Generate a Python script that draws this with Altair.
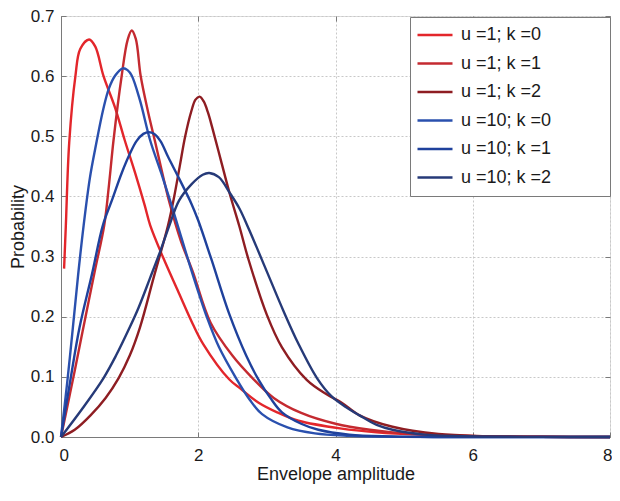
import altair as alt
import pandas as pd

# ---- data ----
SERIES = ["u =1; k =0", "u =1; k =1", "u =1; k =2",
          "u =10; k =0", "u =10; k =1", "u =10; k =2"]
COLORS = ["#e3262b", "#c42a30", "#8e1d22", "#2a50ae", "#1f419c", "#263a78"]

U1K0_X = [0.045, 0.07, 0.12, 0.21, 0.28, 0.41, 0.5, 0.62, 0.79, 0.93, 1.08, 1.22, 1.30,
          1.49, 1.70, 1.92, 2.07, 2.45, 2.62, 2.88, 3.15, 3.46, 4.09, 4.6, 5.2, 6.0, 7.0, 8.0]
U1K0_Y = [0.28, 0.35, 0.49, 0.60, 0.645, 0.661, 0.649, 0.60, 0.547, 0.493, 0.439, 0.385, 0.352,
          0.298, 0.244, 0.188, 0.155, 0.096, 0.08, 0.057, 0.041, 0.027, 0.014, 0.008, 0.004,
          0.0015, 0.0003, 0.0]

U1K1_X = [0, 0.1, 0.2, 0.34, 0.5, 0.63, 0.7, 0.765, 0.885, 0.97, 1.03, 1.09, 1.16, 1.26,
          1.367, 1.58, 1.75, 1.92, 2.18, 2.5, 2.79, 3.1, 3.5, 4.0, 4.5, 5.0, 5.6, 6.3, 7.0, 8.0]
U1K1_Y = [0, 0.055, 0.11, 0.19, 0.28, 0.352, 0.42, 0.493, 0.601, 0.66, 0.676, 0.662, 0.601,
          0.545, 0.493, 0.39, 0.325, 0.275, 0.19, 0.135, 0.098, 0.065, 0.04, 0.022, 0.012,
          0.006, 0.003, 0.001, 0.0003, 0]

U1K2_X = [0, 0.2, 0.43, 0.65, 0.84, 1.0, 1.15, 1.35, 1.56, 1.65, 1.73, 1.81, 1.9, 1.96, 2.02,
          2.08, 2.14, 2.21, 2.33, 2.46, 2.6, 2.73, 3.0, 3.22, 3.58, 3.87, 4.09, 4.35, 4.83,
          5.5, 6.2, 7.0, 8.0]
U1K2_Y = [0, 0.012, 0.036, 0.065, 0.098, 0.135, 0.182, 0.265, 0.352, 0.40, 0.45, 0.50, 0.542,
          0.561, 0.566, 0.558, 0.54, 0.512, 0.46, 0.404, 0.35, 0.296, 0.203, 0.149, 0.095,
          0.071, 0.057, 0.036, 0.017, 0.005, 0.0015, 0.0004, 0]

U10K0_X = [0, 0.09, 0.173, 0.25, 0.33, 0.42, 0.5, 0.62, 0.7, 0.79, 0.9, 0.97, 1.03, 1.15,
           1.3, 1.46, 1.59, 1.70, 1.92, 2.13, 2.3, 2.55, 2.75, 2.93, 3.3, 3.7, 4.2, 4.8, 5.5, 8.0]
U10K0_Y = [0, 0.09, 0.182, 0.27, 0.352, 0.43, 0.48, 0.547, 0.58, 0.601, 0.613, 0.61, 0.601,
           0.56, 0.493, 0.439, 0.393, 0.352, 0.27, 0.198, 0.15, 0.098, 0.062, 0.038, 0.016,
           0.006, 0.002, 0.0005, 0, 0]

U10K1_X = [0, 0.13, 0.27, 0.45, 0.61, 0.74, 0.885, 1.0, 1.1, 1.2, 1.28, 1.36, 1.45, 1.56,
           1.72, 1.9, 2.0, 2.19, 2.45, 2.7, 2.88, 3.05, 3.22, 3.5, 3.75, 4.2, 4.8, 5.5, 8.0]
U10K1_Y = [0, 0.09, 0.182, 0.27, 0.352, 0.393, 0.439, 0.47, 0.492, 0.504, 0.507, 0.504, 0.492,
           0.466, 0.43, 0.388, 0.36, 0.296, 0.205, 0.135, 0.095, 0.065, 0.041, 0.022,
           0.012, 0.004, 0.001, 0, 0]

U10K2_X = [0, 0.31, 0.62, 0.8, 1.0, 1.13, 1.3, 1.45, 1.58, 1.72, 1.9, 2.065, 2.16, 2.3, 2.47,
           2.6, 2.74, 3.0, 3.24, 3.46, 3.73, 3.94, 4.15, 4.35, 4.6, 4.83, 5.3, 6.0, 7.0, 8.0]
U10K2_Y = [0, 0.047, 0.098, 0.135, 0.182, 0.215, 0.265, 0.31, 0.352, 0.393, 0.42, 0.436, 0.439,
           0.432, 0.404, 0.38, 0.345, 0.275, 0.21, 0.155, 0.098, 0.068, 0.05, 0.036, 0.02,
           0.012, 0.004, 0.001, 0.0002, 0]

X_TICKS = [0, 2, 4, 6, 8]
Y_TICKS = [0.0, 0.1, 0.2, 0.3, 0.4, 0.5, 0.6, 0.7]
X_TITLE = "Envelope amplitude"
Y_TITLE = "Probability"

XS = [U1K0_X, U1K1_X, U1K2_X, U10K0_X, U10K1_X, U10K2_X]
YS = [U1K0_Y, U1K1_Y, U1K2_Y, U10K0_Y, U10K1_Y, U10K2_Y]

rows = []
for name, xs, ys in zip(SERIES, XS, YS):
    for i, (a, b) in enumerate(zip(xs, ys)):
        rows.append({"series": name, "x": a, "y": b, "i": i})
df = pd.DataFrame(rows)

FONT = "Liberation Sans"
W, H = 549, 421
GRAY = "#7a7a7a"
TXT = "#1a1a1a"

xscale = alt.Scale(domain=[0, 8], nice=False, zero=False)
yscale = alt.Scale(domain=[0, 0.7], nice=False)

color = alt.Color(
    "series:N",
    sort=SERIES,
    scale=alt.Scale(domain=SERIES, range=COLORS),
    legend=alt.Legend(
        title=None,
        orient="none",
        legendX=349,
        legendY=1,
        symbolType="stroke",
        symbolSize=1225,
        symbolStrokeWidth=2.5,
        labelFont=FONT,
        labelFontSize=18,
        labelColor=TXT,
        labelOffset=7,
        labelLimit=400,
        labelExpr="datum.label + '\u2800\u2800\u2800\u2800'",
        clipHeight=24,
        rowPadding=4.5,
        padding=6,
        strokeColor=GRAY,
        fillColor="white",
        cornerRadius=0,
    ),
)

lines = alt.Chart(df).mark_line(strokeWidth=2.4, interpolate="catmull-rom").encode(
    x=alt.X("x:Q", scale=xscale,
            axis=alt.Axis(values=X_TICKS, title=X_TITLE, grid=True, ticks=False,
                          gridDash=[2, 2], gridColor="#c8c8c8",
                          domainColor=GRAY, labelPadding=10, titlePadding=2,
                          labelFont=FONT, labelFontSize=17, labelColor=TXT,
                          titleFont=FONT, titleFontSize=18, titleFontWeight="normal",
                          titleColor=TXT, labelFlush=True, labelFlushOffset=2)),
    y=alt.Y("y:Q", scale=yscale,
            axis=alt.Axis(values=Y_TICKS, format=".1f", title=Y_TITLE, grid=True,
                          ticks=False, gridDash=[2, 2], gridColor="#c8c8c8",
                          domainColor=GRAY, labelPadding=7, titlePadding=3,
                          labelFont=FONT, labelFontSize=17, labelColor=TXT,
                          titleFont=FONT, titleFontSize=18, titleFontWeight="normal",
                          titleColor=TXT, labelFlush=False)),
    color=color,
    order="i:Q",
)

def tick_layer(xorient, yorient):
    return alt.Chart(df).mark_line(strokeOpacity=0).encode(
        x=alt.X("x:Q", scale=xscale,
                axis=alt.Axis(orient=xorient, offset=-H, values=X_TICKS, labels=False,
                              domain=False, grid=False, ticks=True, tickSize=5,
                              tickColor=GRAY, title=None)),
        y=alt.Y("y:Q", scale=yscale,
                axis=alt.Axis(orient=yorient, offset=-W, values=Y_TICKS, labels=False,
                              domain=False, grid=False, ticks=True, tickSize=5,
                              tickColor=GRAY, title=None)),
        detail="series:N",
    )

chart = alt.layer(
    lines, tick_layer("top", "right"), tick_layer("bottom", "left")
).resolve_axis(x="independent", y="independent").properties(
    width=W, height=H,
    autosize=alt.AutoSizeParams(type="none"),
    padding={"left": 53, "top": 8, "right": 2, "bottom": 47},
).configure_view(stroke=GRAY, strokeWidth=1).configure(background="white")

chart.save("out.html", embed_options={"renderer": "svg", "actions": False})
